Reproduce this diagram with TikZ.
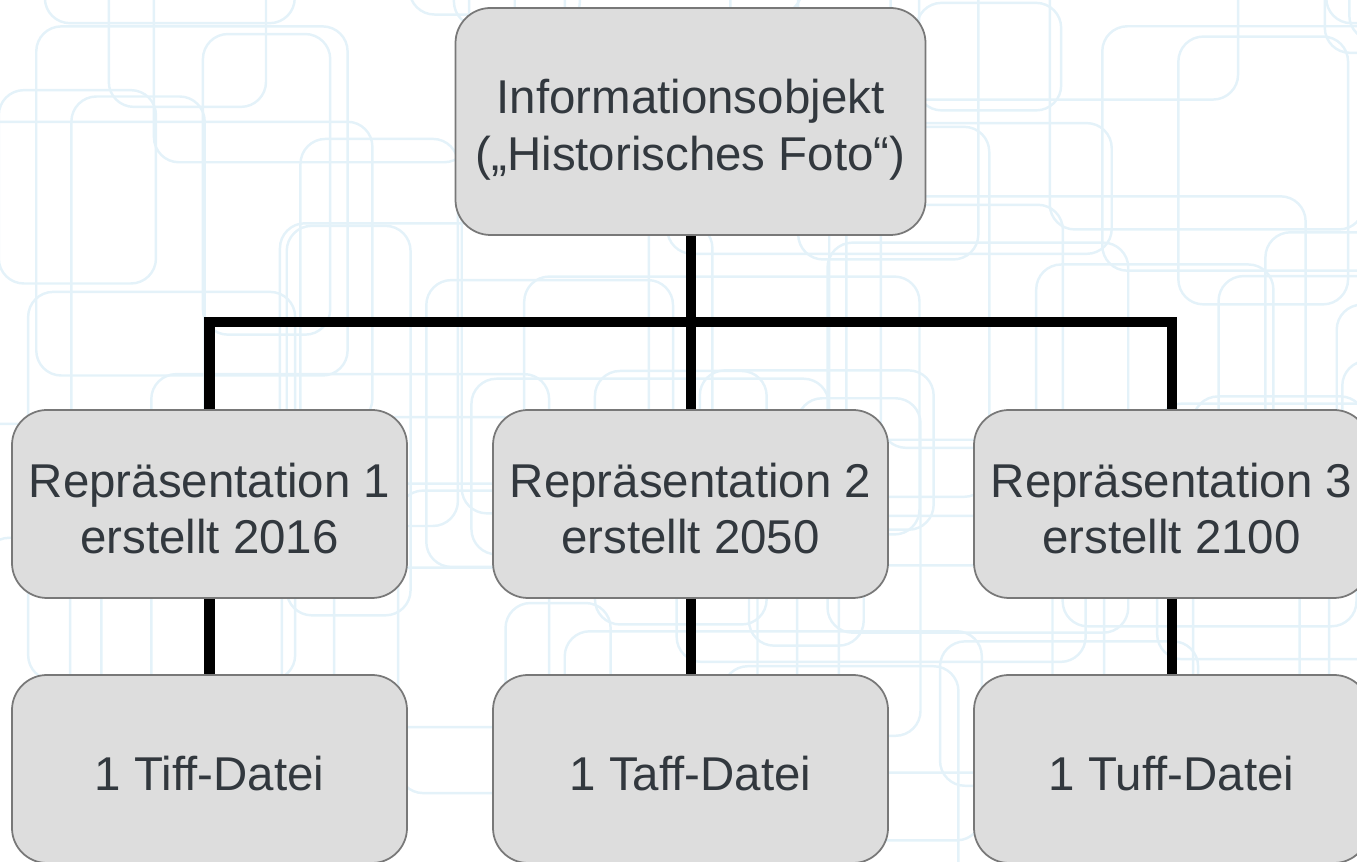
\documentclass[tikz,border=0pt]{standalone}
\usepackage{fontspec}
\setmainfont{Liberation Sans}
\usetikzlibrary{positioning}
\definecolor{boxfill}{RGB}{221,221,221}
\definecolor{boxline}{RGB}{120,120,120}
\definecolor{boxtext}{RGB}{50,56,62}
\definecolor{bgline}{RGB}{228,242,249}

\begin{document}
\begin{tikzpicture}[node distance=9.62cm,
    box/.style={draw=boxline,line width=1pt,fill=boxfill,rounded corners=0.7cm,
      text=boxtext,align=center,minimum width=7.9cm,minimum height=3.76cm,
      font=\fontsize{27}{32}\selectfont,text height=57pt},
    filebox/.style={box,text height=25pt},
    conn/.style={line width=5.7pt,black}]
  \useasboundingbox (0,0) rectangle (27.14,17.24);
  \clip (0,0) rectangle (27.14,17.24);
  % background pattern
  \pgfmathsetseed{42}
  \foreach \i in {1,...,60}{
    \pgfmathsetmacro\bx{rnd*28-1}
    \pgfmathsetmacro\by{rnd*18-1}
    \pgfmathsetmacro\bw{2+rnd*7}
    \pgfmathsetmacro\bh{2+rnd*6}
    \draw[draw=bgline,line width=1.4pt,rounded corners=0.5cm] (\bx,\by) rectangle ++(\bw,\bh);
  }
  % boxes
  \node[box] (r1) at (4.19,7.16) {Repräsentation 1\\erstellt 2016};
  \node[box] (r2) [right of=r1] {Repräsentation 2\\erstellt 2050};
  \node[box] (r3) [right of=r2] {Repräsentation 3\\erstellt 2100};
  \node[box,minimum width=9.4cm,minimum height=4.54cm,text height=61pt] (info) [above of=r2,node distance=7.65cm]
    {Informationsobjekt\\(„Historisches Foto“)};
  \node[filebox] (f1) [below of=r1,node distance=5.3cm] {1 Tiff-Datei};
  \node[filebox] (f2) [below of=r2,node distance=5.3cm] {1 Taff-Datei};
  \node[filebox] (f3) [below of=r3,node distance=5.3cm] {1 Tuff-Datei};
  % connectors
  \coordinate[below=1.72cm of info] (bar);
  \draw[conn] (info.south) -- (r2.north);
  \draw[conn] (r1.north) |- (bar) -| (r3.north);
  \draw[conn] (r1.south) -- (f1.north);
  \draw[conn] (r2.south) -- (f2.north);
  \draw[conn] (r3.south) -- (f3.north);
\end{tikzpicture}
\end{document}
